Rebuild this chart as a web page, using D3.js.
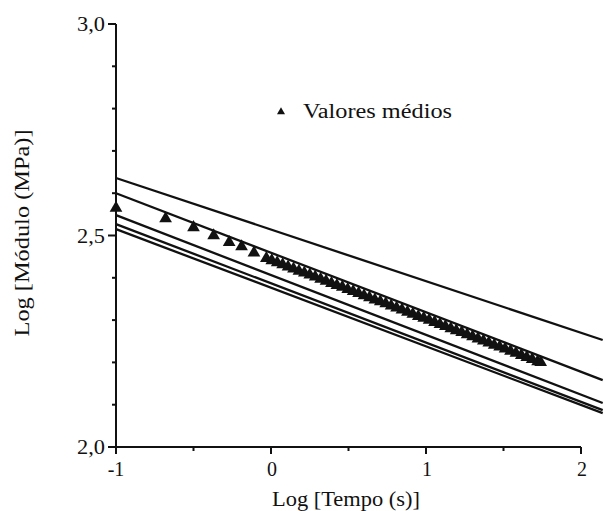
<!DOCTYPE html>
<html>
<head>
<meta charset="utf-8">
<script src="https://cdn.jsdelivr.net/npm/d3@7"></script>
<style>
  html, body { margin: 0; padding: 0; background: #fff; }
  svg { display: block; }
</style>
</head>
<body>
<svg id="chart" width="606" height="511"></svg>
<script>
// Fitted creep-modulus lines: log E at log t = -1 and at the right edge (log t = 2.14)
const lineStartX = -1;
const lineEndX = 2.14;
const lineStartY = [2.636, 2.600, 2.548, 2.527, 2.515];
const lineEndY   = [2.253, 2.158, 2.104, 2.087, 2.080];

// Mean measured values ("Valores médios")
const meanLogT = [-1.00, -0.68, -0.50, -0.37, -0.27, -0.19, -0.11,
  -0.03, 0.005, 0.04, 0.075, 0.11, 0.145, 0.18, 0.215, 0.25, 0.285, 0.32, 0.355,
  0.39, 0.425, 0.46, 0.495, 0.53, 0.565, 0.60, 0.635, 0.67, 0.705, 0.74, 0.775,
  0.81, 0.845, 0.88, 0.915, 0.95, 0.985, 1.02, 1.055, 1.09, 1.125, 1.16, 1.195,
  1.23, 1.265, 1.30, 1.335, 1.37, 1.405, 1.44, 1.475, 1.51, 1.545, 1.58, 1.615,
  1.65, 1.685, 1.72, 1.74];
const meanLogE = [2.565, 2.540, 2.519, 2.500, 2.484, 2.474, 2.459,
  2.446, 2.441, 2.436, 2.431, 2.426, 2.421, 2.416, 2.412, 2.407, 2.402, 2.397, 2.392,
  2.387, 2.382, 2.378, 2.373, 2.368, 2.363, 2.358, 2.353, 2.348, 2.344, 2.339, 2.334,
  2.329, 2.324, 2.319, 2.314, 2.309, 2.305, 2.300, 2.295, 2.290, 2.285, 2.280, 2.275,
  2.271, 2.266, 2.261, 2.256, 2.251, 2.246, 2.241, 2.237, 2.232, 2.227, 2.222, 2.217,
  2.212, 2.207, 2.202, 2.200];

// Axis ticks
const xMajorTicks = [-1, 0, 1, 2];
const xTickLabels = ["-1", "0", "1", "2"];
const xMinorTicks = [-0.5, 0.5, 1.5];
const yMajorTicks = [2.0, 2.5, 3.0];
const yTickLabels = ["2,0", "2,5", "3,0"];
const yMinorTicks = [2.1, 2.2, 2.3, 2.4, 2.6, 2.7, 2.8, 2.9];

const xTitle = "Log [Tempo (s)]";
const yTitle = "Log [Módulo (MPa)]";
const legendLabel = "Valores médios";

const svg = d3.select("#chart");
const x = d3.scaleLinear().domain([-1, 2]).range([116, 581]);
const y = d3.scaleLinear().domain([2, 3]).range([447, 24]);

// Fitted lines
const lineGen = d3.line().x(d => x(d[0])).y(d => y(d[1]));
svg.append("g")
  .selectAll("path")
  .data(lineStartY.map((v, i) => [[lineStartX, v], [lineEndX, lineEndY[i]]]))
  .join("path")
  .attr("d", lineGen)
  .attr("fill", "none")
  .attr("stroke", "#111")
  .attr("stroke-width", 2.3);

// Mean values as triangles
const tri = d3.symbol().type(d3.symbolTriangle).size(70);
svg.append("g")
  .selectAll("path")
  .data(meanLogT.map((t, i) => [t, meanLogE[i]]))
  .join("path")
  .attr("d", tri)
  .attr("transform", d => `translate(${x(d[0])},${y(d[1])})`)
  .attr("fill", "#111");

// Y axis
const yAxis = svg.append("g").attr("stroke", "#111").attr("stroke-width", 2);
yAxis.append("line")
  .attr("x1", x(-1)).attr("x2", x(-1))
  .attr("y1", y(2)).attr("y2", y(3));
yAxis.selectAll("line.maj").data(yMajorTicks).join("line").attr("class", "maj")
  .attr("x1", x(-1) - 8).attr("x2", x(-1))
  .attr("y1", d => y(d)).attr("y2", d => y(d));
yAxis.selectAll("line.min").data(yMinorTicks).join("line").attr("class", "min")
  .attr("x1", x(-1) - 4).attr("x2", x(-1))
  .attr("y1", d => y(d)).attr("y2", d => y(d));

const label = (sel, size) => sel
  .style("font-family", "Liberation Serif")
  .style("font-size", (size || 19) + "px")
  .attr("fill", "#111");

svg.append("g").selectAll("text").data(yMajorTicks).join("text")
  .call(label, 20)
  .attr("x", 105)
  .attr("y", d => y(d) + 7)
  .attr("text-anchor", "end")
  .attr("textLength", 28)
  .attr("lengthAdjust", "spacingAndGlyphs")
  .text((d, i) => yTickLabels[i]);

// X axis
const xAxis = svg.append("g").attr("stroke", "#111").attr("stroke-width", 2);
xAxis.append("line")
  .attr("x1", x(-1) - 1).attr("x2", x(2))
  .attr("y1", y(2)).attr("y2", y(2));
xAxis.selectAll("line.maj").data(xMajorTicks).join("line").attr("class", "maj")
  .attr("x1", d => x(d)).attr("x2", d => x(d))
  .attr("y1", y(2)).attr("y2", y(2) + 7);
xAxis.selectAll("line.min").data(xMinorTicks).join("line").attr("class", "min")
  .attr("x1", d => x(d)).attr("x2", d => x(d))
  .attr("y1", y(2)).attr("y2", y(2) + 4);
svg.append("g").selectAll("text").data(xMajorTicks).join("text")
  .call(label, 20)
  .attr("x", d => x(d) + (d < 0 ? 0 : 1))
  .attr("y", 476)
  .attr("text-anchor", "middle")
  .text((d, i) => xTickLabels[i]);

// Axis titles
svg.append("text")
  .call(label, 20)
  .attr("x", 346).attr("y", 506)
  .attr("text-anchor", "middle")
  .attr("textLength", 148)
  .attr("lengthAdjust", "spacingAndGlyphs")
  .text(xTitle);
svg.append("text")
  .call(label, 20)
  .attr("transform", "translate(29,233) rotate(-90)")
  .attr("text-anchor", "middle")
  .attr("textLength", 207)
  .attr("lengthAdjust", "spacingAndGlyphs")
  .text(yTitle);

// Legend
svg.append("path")
  .attr("d", d3.symbol().type(d3.symbolTriangle).size(28)())
  .attr("transform", "translate(281,112)")
  .attr("fill", "#111");
svg.append("text")
  .call(label, 20)
  .attr("x", 303).attr("y", 118)
  .attr("textLength", 149)
  .attr("lengthAdjust", "spacingAndGlyphs")
  .text(legendLabel);
</script>
</body>
</html>
